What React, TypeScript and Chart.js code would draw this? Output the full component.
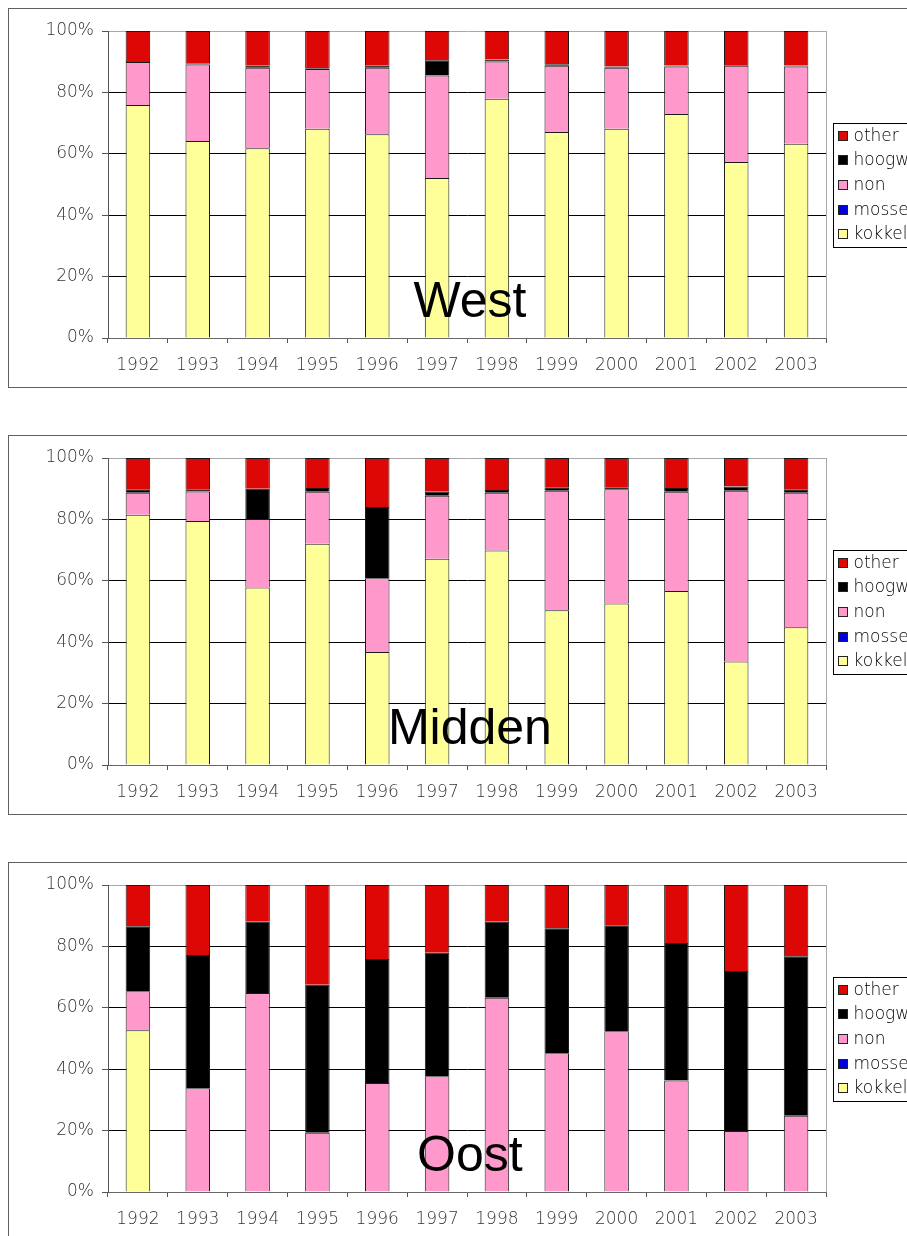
import React, { useEffect, useRef } from "react";
import { Chart, registerables } from "chart.js";

Chart.register(...registerables);

const years = ["1992", "1993", "1994", "1995", "1996", "1997", "1998", "1999", "2000", "2001", "2002", "2003"];
const yTicks = [0, 20, 40, 60, 80, 100];

const seriesLabels = ["kokkel", "mosselen", "non", "hoogwater", "other"];
const seriesColors = ["#ffff99", "#0000dd", "#ff99cc", "#000000", "#dd0806"];
const regionTitles = ["West", "Midden", "Oost"];

// West
const kokkelWest = [75.9, 64.2, 61.8, 68.2, 66.4, 52.1, 77.9, 67.1, 68.2, 73.0, 57.3, 63.3];
const mosselWest = [null, null, null, null, null, null, null, null, null, null, null, null];
const nonWest = [14.0, 24.9, 26.2, 19.4, 21.6, 33.4, 12.2, 21.6, 19.8, 15.4, 31.4, 25.1];
const hoogwWest = [0.3, 0.4, 0.7, 0.3, 0.7, 5.0, 0.6, 0.5, 0.4, 0.4, 0.2, 0.4];
const otherWest = [9.8, 10.5, 11.3, 12.1, 11.3, 9.5, 9.3, 10.8, 11.6, 11.2, 11.1, 11.2];

// Midden
const kokkelMidden = [81.5, 79.5, 57.8, 72.1, 36.8, 67.2, 69.9, 50.4, 52.6, 56.7, 33.7, 44.9];
const mosselMidden = [null, null, null, null, null, null, null, null, null, null, null, null];
const nonMidden = [7.2, 9.6, 22.3, 16.9, 24.0, 20.5, 18.8, 38.9, 37.2, 32.3, 55.6, 43.8];
const hoogwMidden = [1.1, 0.7, 9.9, 1.2, 23.2, 1.3, 0.9, 1.2, 0.7, 1.2, 1.4, 1.1];
const otherMidden = [10.2, 10.2, 10.0, 9.8, 16.0, 11.0, 10.4, 9.5, 9.5, 9.8, 9.3, 10.2];

// Oost
const kokkelOost = [52.7, null, null, null, null, null, null, null, null, null, null, null];
const mosselOost = [null, null, null, null, null, null, null, null, null, null, null, null];
const nonOost = [12.7, 33.8, 64.8, 19.3, 35.5, 37.7, 63.3, 45.2, 52.4, 36.3, 19.9, 24.8];
const hoogwOost = [21.2, 43.4, 23.2, 48.2, 40.4, 40.2, 24.7, 40.7, 34.5, 44.8, 52.1, 52.0];
const otherOost = [13.4, 22.8, 12.0, 32.5, 24.1, 22.1, 12.0, 14.1, 13.1, 18.9, 28.0, 23.2];

const regionSeries = [
  [kokkelWest, mosselWest, nonWest, hoogwWest, otherWest],
  [kokkelMidden, mosselMidden, nonMidden, hoogwMidden, otherMidden],
  [kokkelOost, mosselOost, nonOost, hoogwOost, otherOost],
];

const BOX_TOPS = [8, 435, 862];
const CANVAS_W = 958;
const CANVAS_H = 378;
const TICK_FONT = { family: "'DejaVu Sans', Verdana, sans-serif", size: 17, weight: 200 as any };

const frameAndTitlePlugin = {
  id: "frameAndTitle",
  beforeDatasetsDraw(chart: any) {
    const { ctx, chartArea } = chart;
    ctx.save();
    ctx.strokeStyle = "#a8a8a8";
    ctx.lineWidth = 1;
    const x = Math.round(chartArea.right) + 0.5;
    ctx.beginPath();
    ctx.moveTo(x, chartArea.top);
    ctx.lineTo(x, chartArea.bottom);
    ctx.stroke();
    ctx.restore();
  },
  afterDatasetsDraw(chart: any) {
    const { ctx, chartArea } = chart;
    const title = chart.options.plugins.frameAndTitle.title;
    ctx.save();
    ctx.font = "50px 'Liberation Sans', Arial, sans-serif";
    ctx.fillStyle = "#000";
    ctx.textAlign = "center";
    ctx.textBaseline = "alphabetic";
    ctx.fillText(title, chartArea.left + chartArea.width * 0.504, chartArea.bottom - 21);
    ctx.restore();
  },
  afterDraw(chart: any) {
    const { ctx, chartArea } = chart;
    const ds = chart.data.datasets;
    const boxLeft = Math.round(chartArea.right) + 7.5;
    const cy = (chartArea.top + chartArea.bottom) / 2;
    const step = 24.7;
    const boxH = 124;
    const boxTop = Math.round(cy - boxH / 2) + 0.5;
    ctx.save();
    ctx.strokeStyle = "#000";
    ctx.lineWidth = 1;
    ctx.strokeRect(boxLeft, boxTop, 140, boxH);
    ctx.font = "200 17px 'DejaVu Sans', Verdana, sans-serif";
    ctx.textBaseline = "middle";
    ctx.textAlign = "left";
    const n = ds.length;
    for (let k = 0; k < n; k++) {
      const d = ds[n - 1 - k];
      const y = cy + (k - (n - 1) / 2) * step;
      const my = Math.round(y - 4.5) + 0.5;
      ctx.fillStyle = d.backgroundColor;
      ctx.fillRect(boxLeft + 5, my, 9, 9);
      ctx.strokeStyle = "#222";
      ctx.strokeRect(boxLeft + 5, my, 9, 9);
      ctx.fillStyle = "#000";
      ctx.fillText(d.label, boxLeft + 20, y + 1);
    }
    ctx.restore();
  },
};

function RegionChart({ index }: { index: number }) {
  const ref = useRef<HTMLCanvasElement | null>(null);
  useEffect(() => {
    if (!ref.current) return;
    const series = regionSeries[index];
    const chart = new Chart(ref.current, {
      type: "bar",
      data: {
        labels: years,
        datasets: seriesLabels.map((label, i) => ({
          label,
          data: series[i] as any,
          backgroundColor: seriesColors[i],
          borderColor: "#1a1a1a",
          borderWidth: 1,
          categoryPercentage: 1,
          barPercentage: 0.41,
        })),
      },
      options: {
        responsive: false,
        animation: false,
        devicePixelRatio: 1,
        layout: { padding: { top: 22, right: CANVAS_W - 817, left: 0, bottom: 0 } },
        plugins: {
          legend: { display: false },
          tooltip: { enabled: false },
          frameAndTitle: { title: regionTitles[index] },
        } as any,
        scales: {
          x: {
            stacked: true,
            afterFit(scale: any) {
              scale.height = CANVAS_H - 329;
            },
            grid: {
              drawOnChartArea: false,
              offset: true,
              tickLength: 5,
              tickColor: "#555",
            },
            border: { color: "#666", width: 1 },
            ticks: {
              color: "#333",
              font: TICK_FONT,
              padding: 12,
              maxRotation: 0,
              autoSkip: false,
            },
          },
          y: {
            stacked: true,
            min: 0,
            max: 100,
            afterFit(scale: any) {
              scale.width = 99;
            },
            afterBuildTicks(scale: any) {
              scale.ticks = yTicks.map((v) => ({ value: v }));
            },
            grid: {
              color: (c: any) => (c.tick && (c.tick.value === 100 || c.tick.value === 0) ? "#a8a8a8" : "#000"),
              tickColor: "#555",
              tickLength: 6,
              lineWidth: 1,
            },
            border: { color: "#555", width: 1 },
            ticks: {
              color: "#333",
              font: TICK_FONT,
              padding: 8,
              callback: (v: any) => v + "%",
            },
          },
        },
      },
      plugins: [frameAndTitlePlugin],
    });
    return () => chart.destroy();
  }, [index]);

  return (
    <div
      style={{
        position: "absolute",
        left: 8,
        top: BOX_TOPS[index],
        width: CANVAS_W + 2,
        height: CANVAS_H + 2,
        border: "1px solid #606060",
        boxSizing: "border-box",
        background: "#fff",
      }}
    >
      <canvas ref={ref} width={CANVAS_W} height={CANVAS_H} style={{ display: "block", width: CANVAS_W, height: CANVAS_H }} />
    </div>
  );
}

export default function App() {
  return (
    <div
      style={{
        position: "fixed",
        left: 0,
        top: 0,
        width: 907,
        height: 1236,
        overflow: "hidden",
        background: "#fff",
      }}
    >
      {regionTitles.map((_, i) => (
        <RegionChart key={i} index={i} />
      ))}
    </div>
  );
}
